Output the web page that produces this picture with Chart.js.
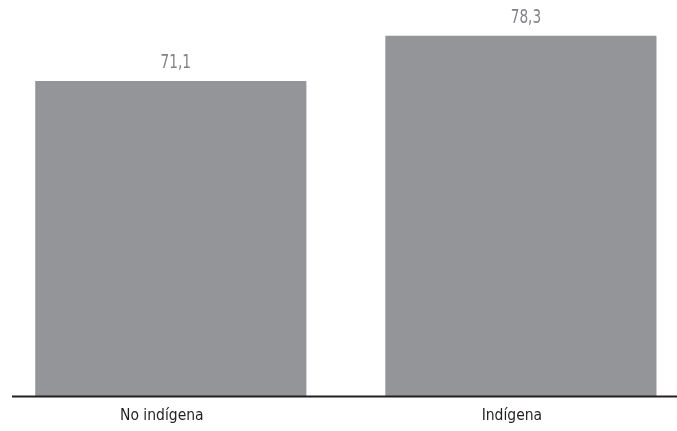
<!DOCTYPE html>
<html>
<head>
<meta charset="utf-8">
<script src="https://cdn.jsdelivr.net/npm/chart.js@4"></script>
<style>
  html, body { margin: 0; padding: 0; background: #ffffff; }
  #wrap { width: 677px; height: 431px; position: relative; }
</style>
</head>
<body>
<div id="wrap"><canvas id="c" width="677" height="431"></canvas></div>
<script>
const categories = ["No indígena", "Indígena"];
const values = [71.1, 78.3];

const FONT = "'Liberation Sans Narrow', 'DejaVu Sans Condensed', 'Arial Narrow', sans-serif";
const Y_MIN = 21.07;
const Y_MAX = 84.03;

const valueLabels = {
  id: 'valueLabels',
  afterDatasetsDraw(chart) {
    const ctx = chart.ctx;
    const meta = chart.getDatasetMeta(0);
    meta.data.forEach((bar, i) => {
      const txt = values[i].toFixed(1).replace('.', ',');
      ctx.save();
      ctx.translate(bar.x + 5, bar.y - 13.5);
      ctx.scale(0.76, 1);
      ctx.font = "20px " + FONT;
      ctx.fillStyle = "#808285";
      ctx.textAlign = "center";
      ctx.textBaseline = "alphabetic";
      ctx.fillText(txt, 0, 0);
      ctx.restore();
    });
  }
};

const baseLine = {
  id: 'baseLine',
  afterDatasetsDraw(chart) {
    const ctx = chart.ctx;
    const y = chart.chartArea.bottom + 0.5;
    ctx.save();
    ctx.strokeStyle = "#231f20";
    ctx.lineWidth = 2;
    ctx.beginPath();
    ctx.moveTo(12, y);
    ctx.lineTo(677, y);
    ctx.stroke();
    ctx.restore();
  }
};

new Chart(document.getElementById('c'), {
  type: 'bar',
  data: {
    labels: categories,
    datasets: [{
      data: values,
      backgroundColor: "#939598",
      borderWidth: 0,
      barThickness: 270.5,
      base: Y_MIN,
      clip: false
    }]
  },
  options: {
    responsive: false,
    animation: false,
    layout: { padding: { left: 170.8, right: 156.1, top: 0, bottom: 0 } },
    plugins: { legend: { display: false }, tooltip: { enabled: false } },
    scales: {
      x: {
        offset: false,
        grid: { display: false, drawTicks: false },
        border: { display: false },
        ticks: {
          color: "#231f20",
          font: { family: FONT, size: 15.5 },
          padding: 10.5,
          labelOffset: -9,
          maxRotation: 0,
          autoSkip: false
        },
        afterFit(scale) { scale.height = 35; }
      },
      y: {
        display: false,
        min: Y_MIN,
        max: Y_MAX
      }
    }
  },
  plugins: [valueLabels, baseLine]
});
</script>
</body>
</html>
